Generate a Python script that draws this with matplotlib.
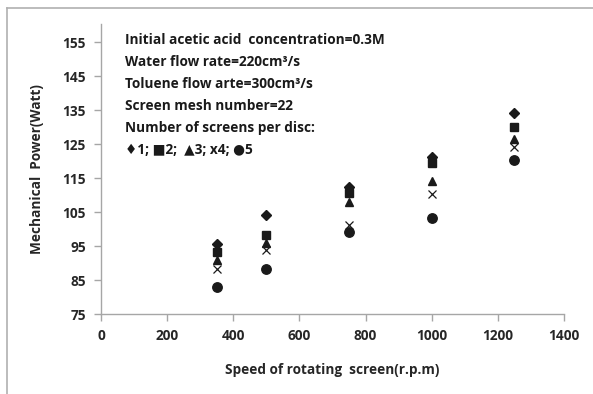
import matplotlib
matplotlib.use("Agg")
import matplotlib.pyplot as plt
from matplotlib.lines import Line2D

plt.rcParams['font.family'] = ['Open Sans', 'DejaVu Sans']
plt.rcParams['font.weight'] = 'bold'

speed = [350, 500, 750, 1000, 1250]
power_1 = [95.5, 104, 112.5, 121.3, 134]
power_2 = [93.3, 98.2, 110.5, 119.5, 130]
power_3 = [91, 95.8, 108, 114, 126.5]
power_4 = [88.1, 93.8, 101.2, 110.2, 124.2]
power_5 = [83, 88.1, 99.2, 103.1, 120.3]

x_ticks = [0, 200, 400, 600, 800, 1000, 1200, 1400]
y_ticks = [75, 85, 95, 105, 115, 125, 135, 145, 155]

fig = plt.figure(figsize=(5.93, 3.94), dpi=100)
ax = fig.add_axes([101/593, 1-314/394, (564-101)/593, (314-24)/394])

ax.plot(speed, power_1, linestyle='none', marker='D', ms=5.0, color='#1a1a1a', mec='#1a1a1a')
ax.plot(speed, power_2, linestyle='none', marker='s', ms=5.6, color='#1a1a1a')
ax.plot(speed, power_3, linestyle='none', marker='^', ms=6.3, color='#1a1a1a')
ax.plot(speed, power_4, linestyle='none', marker='x', ms=5.8, mew=0.9, color='#1a1a1a')
ax.plot(speed, power_5, linestyle='none', marker='o', ms=6.8, color='#1a1a1a')

ax.set_xlim(0, 1400)
ax.set_ylim(75, 160.3)
ax.set_xticks(x_ticks)
ax.set_yticks(y_ticks)
for s in ['top', 'right']:
    ax.spines[s].set_visible(False)
for s in ['left', 'bottom']:
    ax.spines[s].set_color('#a6a6a6')
    ax.spines[s].set_linewidth(1.0)
ax.tick_params(axis='both', direction='out', length=5, width=1.0, color='#a6a6a6',
               labelcolor='#262626', labelsize=9.8, pad=6)
ax.set_xticklabels([str(v) for v in x_ticks], fontweight='bold', fontsize=9.8, color='#262626')
ax.set_yticklabels([str(v) for v in y_ticks], fontweight='bold', fontsize=9.8, color='#262626')

ax.set_xlabel('Speed of rotating  screen(r.p.m)', fontsize=9.8, fontweight='bold',
              color='#262626', labelpad=14)
ax.set_ylabel('Mechanical  Power(Watt)', fontsize=9.8, fontweight='bold',
              color='#262626', labelpad=13)

lines = [
    'Initial acetic acid  concentration=0.3M',
    'Water flow rate=220cm³/s',
    'Toluene flow arte=300cm³/s',
    'Screen mesh number=22',
    'Number of screens per disc:',
    '♦1; ■2;  ▲3; x4; ●5',
]
for i, t in enumerate(lines):
    fig.text(125/593, 1 - (40 + i*22)/394, t, fontsize=9.8, fontweight='bold',
             color='#1a1a1a', va='center', ha='left')

fig.add_artist(Line2D([7/593, 7/593], [0, 1-8/394], transform=fig.transFigure,
                      color='#b0b0b0', lw=1.2))
fig.add_artist(Line2D([7/593, 1], [1-8/394, 1-8/394], transform=fig.transFigure,
                      color='#b0b0b0', lw=1.2))

fig.savefig('out.png', dpi=100)
